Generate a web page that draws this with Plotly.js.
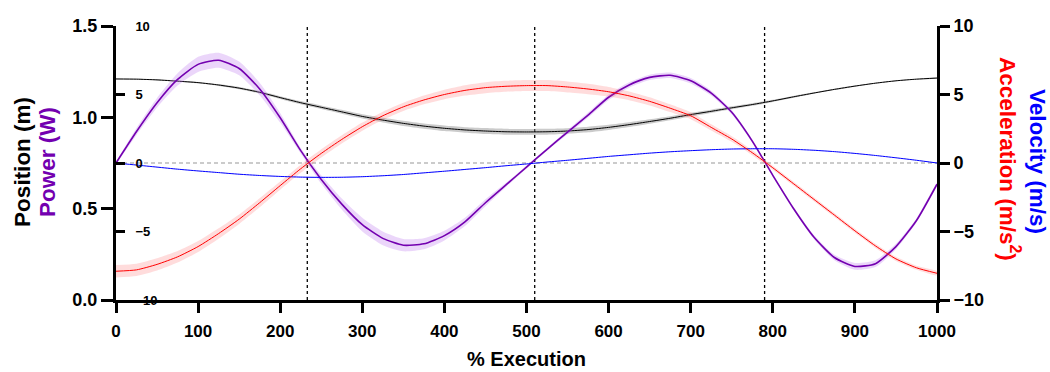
<!DOCTYPE html>
<html>
<head>
<meta charset="utf-8">
<script src="https://cdn.plot.ly/plotly-3.0.1.min.js"></script>
<style>
html,body{margin:0;padding:0;background:#fff;}
#chart{width:1050px;height:372px;}
</style>
</head>
<body>
<div id="chart"></div>
<script>
// % execution sample points (every 25)
const execution = [0,25,50,75,100,125,150,175,200,225,250,275,300,325,350,375,400,425,450,475,500,
  525,550,575,600,625,650,675,700,725,750,775,800,825,850,875,900,925,950,975,1000];
// Position (m) mean and SD
const position = [1.21,1.209,1.205,1.198,1.19,1.177,1.16,1.137,1.108,1.08,1.055,1.03,1.005,0.985,0.967,0.952,0.94,0.931,0.925,0.921,0.92,
  0.921,0.925,0.933,0.945,0.96,0.977,0.995,1.015,1.033,1.052,1.07,1.09,1.112,1.133,1.153,1.171,1.187,1.2,1.209,1.215];
const positionSD = [0.002,0.002,0.003,0.003,0.004,0.005,0.006,0.007,0.008,0.009,0.010,0.011,0.012,0.013,0.014,0.014,0.015,0.015,0.016,0.016,0.016,
  0.016,0.015,0.015,0.014,0.013,0.012,0.011,0.010,0.009,0.008,0.007,0.006,0.005,0.004,0.004,0.003,0.003,0.002,0.002,0.002];
// Velocity (m/s) mean and SD
const velocity = [0,-0.15,-0.3,-0.45,-0.58,-0.7,-0.82,-0.91,-0.98,-1.03,-1.05,-1.04,-1.0,-0.93,-0.84,-0.72,-0.6,-0.47,-0.34,-0.2,-0.07,
  0.07,0.2,0.34,0.48,0.6,0.72,0.82,0.9,0.97,1.02,1.04,1.04,1.0,0.93,0.83,0.7,0.55,0.38,0.2,0];
const velocitySD = [0.02,0.02,0.03,0.03,0.03,0.03,0.03,0.04,0.04,0.04,0.04,0.04,0.04,0.04,0.04,0.04,0.04,0.04,0.04,0.04,0.04,
  0.04,0.04,0.04,0.04,0.04,0.04,0.04,0.04,0.04,0.04,0.03,0.03,0.03,0.03,0.03,0.03,0.02,0.02,0.02,0.02];
// Acceleration (m/s^2) mean and SD
const acceleration = [-7.9,-7.8,-7.4,-6.85,-6.1,-5.15,-4.1,-2.9,-1.65,-0.42,0.7,1.72,2.65,3.45,4.1,4.6,5.0,5.3,5.5,5.6,5.65,
  5.65,5.55,5.4,5.2,4.9,4.5,4.0,3.45,2.6,1.75,0.75,-0.35,-1.5,-2.65,-3.8,-4.95,-6.05,-7.0,-7.65,-8.05];
const accelerationSD = [0.45,0.45,0.45,0.42,0.4,0.38,0.35,0.33,0.3,0.3,0.3,0.3,0.3,0.3,0.3,0.32,0.35,0.38,0.4,0.4,0.4,
  0.4,0.4,0.38,0.35,0.32,0.3,0.28,0.25,0.22,0.2,0.18,0.15,0.15,0.15,0.15,0.15,0.15,0.15,0.15,0.15];
// Power (W) mean and SD
const power = [0,2.3,4.4,6.1,7.2,7.5,6.9,5.4,3.3,0.9,-1.2,-3.0,-4.5,-5.5,-6.0,-5.9,-5.3,-4.3,-2.9,-1.6,-0.3,
  1.0,2.25,3.5,4.8,5.7,6.25,6.4,6.0,5.1,3.7,1.6,-0.9,-3.3,-5.4,-6.9,-7.55,-7.35,-6.1,-4.2,-1.55];
const powerSD = [0.1,0.25,0.35,0.45,0.55,0.55,0.5,0.45,0.35,0.2,0.3,0.4,0.5,0.5,0.45,0.4,0.35,0.3,0.25,0.15,0.1,
  0.1,0.15,0.18,0.2,0.2,0.2,0.2,0.2,0.18,0.15,0.12,0.1,0.12,0.15,0.2,0.25,0.25,0.2,0.15,0.1];
// phase markers (% execution)
const phaseLines = [233,510,790];

const FONT = 'Liberation Sans, Arial, sans-serif';
const PURPLE = '#7300B0';
const SMOOTH = 0.6;

function band(y, sd, axis, fill){
  const up = y.map((v,i)=>v+sd[i]);
  const lo = y.map((v,i)=>v-sd[i]);
  return {
    x: execution.concat(execution.slice().reverse()),
    y: up.concat(lo.reverse()),
    yaxis: axis, type:'scatter', mode:'lines', fill:'toself',
    fillcolor: fill, line:{width:0, shape:'spline', smoothing:SMOOTH}, hoverinfo:'skip', showlegend:false
  };
}
function line(y, axis, color, w){
  return {x: execution, y: y, yaxis: axis, type:'scatter', mode:'lines',
    line:{color:color, width:w, shape:'spline', smoothing:SMOOTH}, showlegend:false};
}

const traces = [
  band(position, positionSD, 'y', 'rgba(140,140,140,0.45)'),
  band(acceleration, accelerationSD, 'y3', 'rgba(255,80,80,0.2)'),
  band(velocity, velocitySD, 'y3', 'rgba(80,80,255,0.12)'),
  band(power, powerSD, 'y2', 'rgba(190,120,240,0.3)'),
  line(position, 'y', '#000000', 1),
  line(velocity, 'y3', '#0000FF', 1),
  line(acceleration, 'y3', '#FF0000', 1),
  line(power, 'y2', PURPLE, 1.6)
];

const shapes = phaseLines.map(x=>({type:'line', xref:'x', yref:'paper', x0:x, x1:x, y0:0, y1:1.005,
  line:{color:'#000', width:1.3, dash:'3px,3px'}, layer:'below'}));
shapes.push({type:'line', xref:'paper', yref:'y3', x0:0, x1:1, y0:0, y1:0,
  line:{color:'#bbbbbb', width:1.3, dash:'4px,3px'}, layer:'below'});

const tickFont = {family:FONT, size:18, color:'#000', weight:700};

const layout = {
  width:1050, height:372,
  margin:{l:116, r:113, t:26, b:72},
  paper_bgcolor:'#fff', plot_bgcolor:'#fff',
  showlegend:false,
  font:{family:FONT},
  xaxis:{range:[0,1000], tickvals:[0,100,200,300,400,500,600,700,800,900,1000],
    ticks:'outside', ticklen:10, tickwidth:3, tickcolor:'#000', ticklabelstandoff:4,
    showline:true, linewidth:3, linecolor:'#000', showgrid:false, zeroline:false,
    tickfont:{family:FONT, size:17, color:'#000', weight:700},
    title:{text:'% Execution', font:{family:FONT, size:20, color:'#000', weight:700}, standoff:12}},
  yaxis:{range:[0,1.5], tickvals:[0,0.5,1,1.5], ticktext:['0.0','0.5','1.0','1.5'],
    ticks:'outside', ticklen:12, tickwidth:3, tickcolor:'#000',
    showline:true, linewidth:3, linecolor:'#000', showgrid:false, zeroline:false,
    tickfont:tickFont},
  yaxis2:{range:[-10,10], overlaying:'y', side:'left', anchor:'x',
    tickvals:[-10,-5,0,5,10], ticks:'inside', ticklen:9, tickwidth:3, tickcolor:'#000',
    ticklabelposition:'inside', ticklabeloverflow:'allow', ticklabelstandoff:10,
    showline:false, showgrid:false, zeroline:false,
    tickfont:{family:FONT, size:13, color:'#000', weight:700}},
  yaxis3:{range:[-10,10], overlaying:'y', side:'right', anchor:'x',
    tickvals:[-10,-5,0,5,10], ticks:'outside', ticklen:10, tickwidth:3, tickcolor:'#000',
    showline:true, linewidth:3, linecolor:'#000', showgrid:false, zeroline:false,
    tickfont:tickFont},
  shapes:shapes,
  annotations:[
    {text:'Position (m)', xref:'paper', yref:'paper', x:-0.1133, y:0.504, textangle:-90,
      showarrow:false, xanchor:'center', yanchor:'middle', font:{family:FONT, size:22.5, color:'#000', weight:700}},
    {text:'Power (W)', xref:'paper', yref:'paper', x:-0.0828, y:0.504, textangle:-90,
      showarrow:false, xanchor:'center', yanchor:'middle', font:{family:FONT, size:22.5, color:PURPLE, weight:700}},
    {text:'Acceleration (m/s<sup>2</sup>)', xref:'paper', yref:'paper', x:1.0889, y:0.515, textangle:90,
      showarrow:false, xanchor:'center', yanchor:'middle', font:{family:FONT, size:22.5, color:'#FF0000', weight:700}},
    {text:'Velocity (m/s)', xref:'paper', yref:'paper', x:1.1218, y:0.504, textangle:90,
      showarrow:false, xanchor:'center', yanchor:'middle', font:{family:FONT, size:22.5, color:'#0000FF', weight:700}}
  ]
};

Plotly.newPlot('chart', traces, layout, {staticPlot:true, displayModeBar:false});
</script>
</body>
</html>
